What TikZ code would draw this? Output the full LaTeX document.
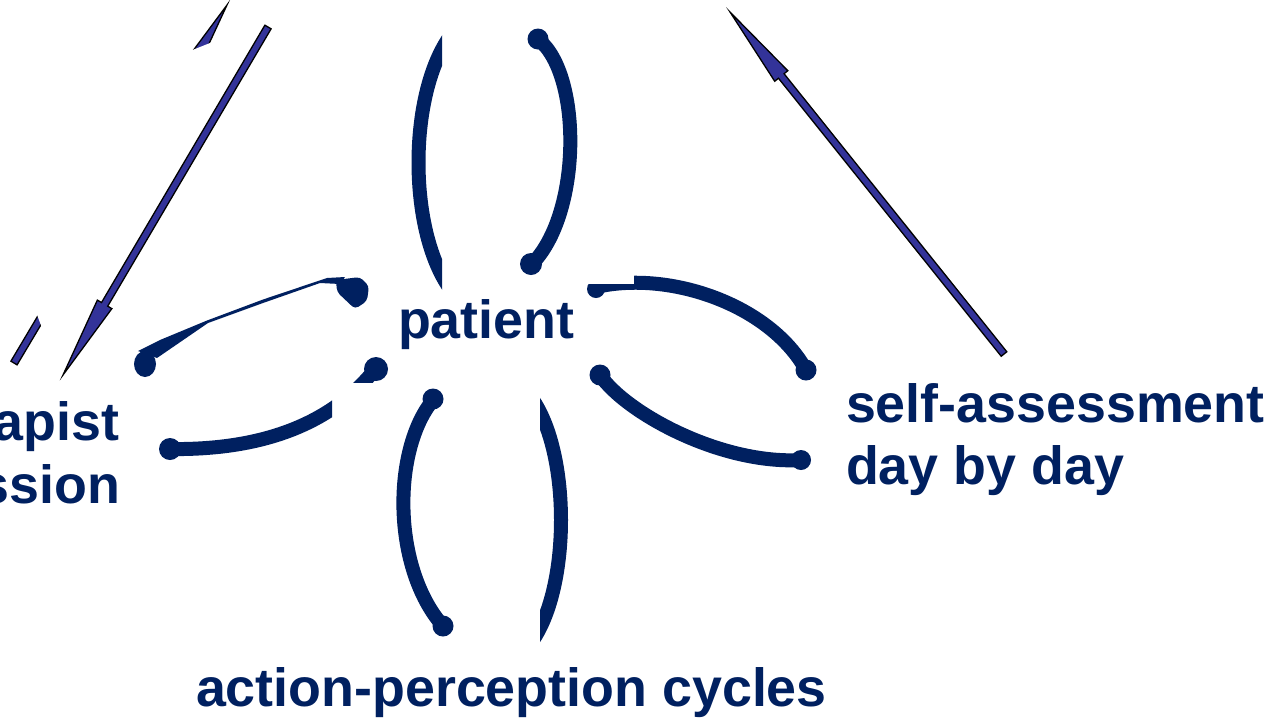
\documentclass[tikz,border=0pt]{standalone}
\usepackage{fontspec}
\setmainfont{Liberation Sans}
\usetikzlibrary{calc}
\definecolor{navy}{HTML}{002060}
\definecolor{arrowblue}{HTML}{333399}
\tikzset{
  lbl/.style={font=\fontsize{53.8}{60}\selectfont\bfseries, text=navy, inner sep=0pt, outer sep=0pt},
  petal/.style={draw=navy, line width=14pt, line cap=round},
  blockarrow/.style={fill=arrowblue, draw=black, line width=1.3pt, line join=miter},
  maskbox/.style={fill=white, draw=none},
}
\newcommand{\BlkArrow}[3]{% #1 tail, #2 tip, #3 prefix
  \coordinate (#3b) at ($(#2)!82pt!(#1)$);
  \path[blockarrow] ($(#1)!3.6pt!90:(#2)$) -- ($(#3b)!3.6pt!90:(#2)$) -- ($(#3b)!8.4pt!90:(#2)$)
    -- (#2) -- ($(#3b)!8.4pt!-90:(#2)$) -- ($(#3b)!3.6pt!-90:(#2)$) -- ($(#1)!3.6pt!-90:(#2)$) -- cycle;
}
\begin{document}
\begin{tikzpicture}[x=1pt,y=-1pt]
\useasboundingbox (0,0) rectangle (1276,721);
\fill[white] (0,0) rectangle (1276,721);

% arrows
\coordinate (a1tail) at (268,27);
\coordinate (a1tip) at (63,375);
\coordinate (a2tail) at (14,363);
\coordinate (a2tip) at (227,5);
\coordinate (a3tail) at (1004,354);
\coordinate (a3tip) at (730,12);
\BlkArrow{a2tail}{a2tip}{a2}
\fill[maskbox] (180,55) -- (225,37) -- (47,341) -- (31,299) -- cycle;
\BlkArrow{a1tail}{a1tip}{a1}
\BlkArrow{a3tail}{a3tip}{a3}

% top pair
\begin{scope}
  \clip (380,0) rectangle (442,320);
  \draw[petal] (465,20) .. controls (403,70) and (403,255) .. (465,305);
\end{scope}
\draw[petal] (539,40) .. controls (582,75) and (582,215) .. (531,265);
\fill[navy] (538,39) circle (10.5pt);
\fill[navy] (531,264) circle (11pt);

% right pair
\draw[petal] (596,287) .. controls (670,270) and (770,305) .. (806,370);
\fill[navy] (596,289) circle (9pt);
\fill[navy] (806,370) circle (10.5pt);
\fill[maskbox] (560,240) rectangle (634,284);
\draw[petal] (600,375) .. controls (625,412) and (720,465) .. (802,460);
\fill[navy] (600,375) circle (10.5pt);
\fill[navy] (801,460) circle (10pt);

% left pair
\fill[navy] (138,351) -- (160,340) -- (207,320.5) -- (263,299.5) -- (327,278) -- (345,277)
  -- (340,284) -- (320,283) -- (263,303) -- (208,323) -- (157,358) -- cycle;
\fill[navy] (145,364) ellipse [x radius=11pt, y radius=13pt];
\fill[navy, rounded corners=4pt] (336,280) -- (360,277) -- (369,286) -- (367,301) -- (355,309) -- (337,292) -- cycle;
\begin{scope}
  \clip (140,300) rectangle (332,480);
  \draw[petal] (168,449) .. controls (230,450) and (320,440) .. (376,368);
\end{scope}
\begin{scope}
  \clip (140,300) rectangle (400,382);
  \draw[petal] (168,449) .. controls (230,450) and (320,440) .. (376,368);
  \fill[navy] (376,369) circle (12pt);
\end{scope}
\fill[navy] (170,449) circle (11pt);

% bottom pair
\draw[petal] (433,400) .. controls (392,450) and (392,568) .. (443,626);
\fill[navy] (433,399) circle (10.5pt);
\fill[navy] (443,626) circle (10.5pt);
\begin{scope}
  \clip (540,360) rectangle (600,680);
  \draw[petal] (525,390) .. controls (573,440) and (573,600) .. (525,650);
\end{scope}

% labels
\node[lbl, anchor=base west] (patient) at (398,338) {patient};
\node[lbl, anchor=base west] (self) at (846,422) {self-assessment};
\node[lbl, anchor=base west] (day) at (846,484) {day by day};
\node[lbl, anchor=base east] (ther) at (119,440) {apist};
\node[lbl, anchor=base east] (sess) at (120,503) {ssion};
\node[lbl, anchor=base west] (apc) at (196,706) {action-perception cycles};
\end{tikzpicture}
\end{document}
